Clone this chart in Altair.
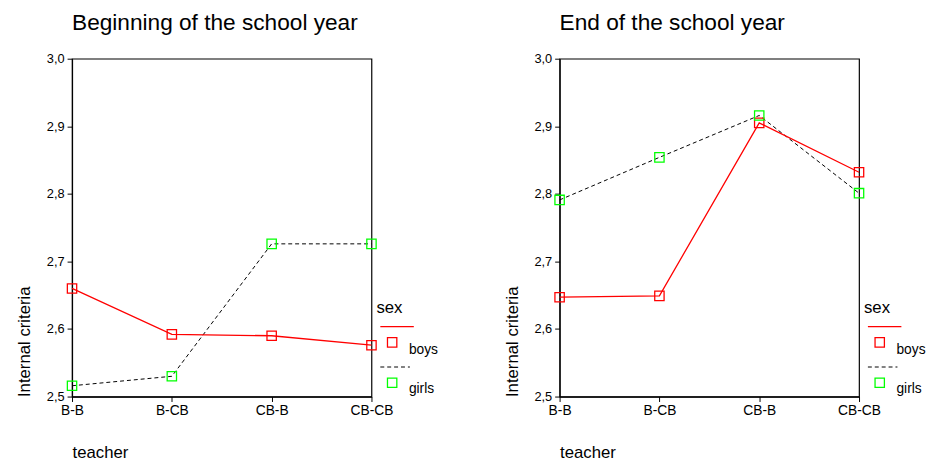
import altair as alt
import pandas as pd

teacher = ["B-B", "B-CB", "CB-B", "CB-CB"]
sexes = ["boys", "girls"]

begin_boys = [2.660, 2.592, 2.590, 2.576]
begin_girls = [2.516, 2.530, 2.726, 2.726]
end_boys = [2.647, 2.649, 2.905, 2.832]
end_girls = [2.791, 2.854, 2.916, 2.801]

titles = ["Beginning of the school year", "End of the school year"]
y_title = "Internal criteria"
x_title = "teacher"
legend_title = "sex"

FONT = "Liberation Sans"
RED = "#ff0000"
GREEN = "#00ff00"
W, H = 304, 343


def panel(title, boys, girls):
    df = pd.DataFrame({
        "teacher": teacher * 2,
        "sex": ["boys"] * 4 + ["girls"] * 4,
        "value": boys + girls,
    })
    x = alt.X("teacher:N", sort=teacher,
              scale=alt.Scale(type="point", padding=0),
              axis=alt.Axis(title=x_title, labelAngle=0, labelFontSize=14,
                            labelFont=FONT, labelColor="black", labelPadding=2,
                            tickSize=5, tickColor="black", domainColor="black",
                            titleFont=FONT, titleFontSize=17, titleFontWeight="normal",
                            titleAnchor="start", titleAlign="left", titleBaseline="alphabetic",
                            titleX=0, titleY=62, labelBaseline="top"))
    y = alt.Y("value:Q",
              scale=alt.Scale(domain=[2.5, 3.0], nice=False, zero=False),
              axis=alt.Axis(title=y_title, values=[2.5, 2.6, 2.7, 2.8, 2.9, 3.0],
                            labelExpr="replace(format(datum.value, '.1f'), '.', ',')",
                            labelFontSize=13, labelFont=FONT, labelColor="black",
                            labelPadding=3, tickSize=5, tickColor="black",
                            domainColor="black", grid=False,
                            titleFont=FONT, titleFontSize=17, titleFontWeight="normal",
                            titleAngle=-90, titleAlign="left", titleBaseline="alphabetic",
                            titleX=-43, titleY=H))
    base = alt.Chart(df).encode(x=x, y=y)
    boys_line = base.transform_filter("datum.sex == 'boys'").mark_line(
        color=RED, strokeWidth=1.3)
    girls_line = base.transform_filter("datum.sex == 'girls'").mark_line(
        color="black", strokeWidth=1, strokeDash=[4, 3])
    boys_pts = base.transform_filter("datum.sex == 'boys'").mark_point(
        shape="square", size=90, filled=False, color=RED, strokeWidth=1.3, opacity=1)
    girls_pts = base.transform_filter("datum.sex == 'girls'").mark_point(
        shape="square", size=90, filled=False, color=GREEN, strokeWidth=1.3, opacity=1)

    # manual legend
    one = pd.DataFrame({"sex": [legend_title]})
    b = pd.DataFrame({"sex": ["boys"]})
    g = pd.DataFrame({"sex": ["girls"]})
    leg_title = alt.Chart(one).mark_text(align="left", baseline="alphabetic",
                                         fontSize=17, font=FONT, color="black").encode(
        x=alt.value(W + 5), y=alt.value(258), text="sex:N")
    leg_rline = alt.Chart(b).mark_rule(color=RED, strokeWidth=1.3).encode(
        x=alt.value(W + 9), x2=alt.value(W + 43), y=alt.value(272))
    leg_rsq = alt.Chart(b).mark_point(shape="square", size=90, filled=False, color=RED,
                                      strokeWidth=1.3, opacity=1).encode(
        x=alt.value(W + 21), y=alt.value(288))
    leg_rtxt = alt.Chart(b).mark_text(align="left", baseline="alphabetic", fontSize=14,
                                      font=FONT, color="black").encode(
        x=alt.value(W + 38), y=alt.value(300), text="sex:N")
    leg_gline = alt.Chart(g).mark_rule(color="black", strokeWidth=1, strokeDash=[4, 3]).encode(
        x=alt.value(W + 9), x2=alt.value(W + 39), y=alt.value(313))
    leg_gsq = alt.Chart(g).mark_point(shape="square", size=90, filled=False, color=GREEN,
                                      strokeWidth=1.3, opacity=1).encode(
        x=alt.value(W + 21), y=alt.value(329))
    leg_gtxt = alt.Chart(g).mark_text(align="left", baseline="alphabetic", fontSize=14,
                                      font=FONT, color="black").encode(
        x=alt.value(W + 38), y=alt.value(339), text="sex:N")

    return alt.layer(girls_line, boys_line, boys_pts, girls_pts,
                     leg_title, leg_rline, leg_rsq, leg_rtxt,
                     leg_gline, leg_gsq, leg_gtxt).properties(
        width=W, height=H,
        title=alt.TitleParams(title, anchor="start", frame="group", fontSize=23,
                              font=FONT, fontWeight="normal", color="black",
                              baseline="alphabetic", offset=0))


chart = alt.hconcat(
    panel(titles[0], begin_boys, begin_girls),
    panel(titles[1], end_boys, end_girls),
    spacing=64,
).properties(padding={"left": 7, "top": 0, "right": 0, "bottom": 0}).configure_view(
    stroke="black", strokeWidth=1.2
).configure_axis(domainWidth=1.2)

chart.save("out.html", embed_options={"renderer": "svg", "actions": False})
